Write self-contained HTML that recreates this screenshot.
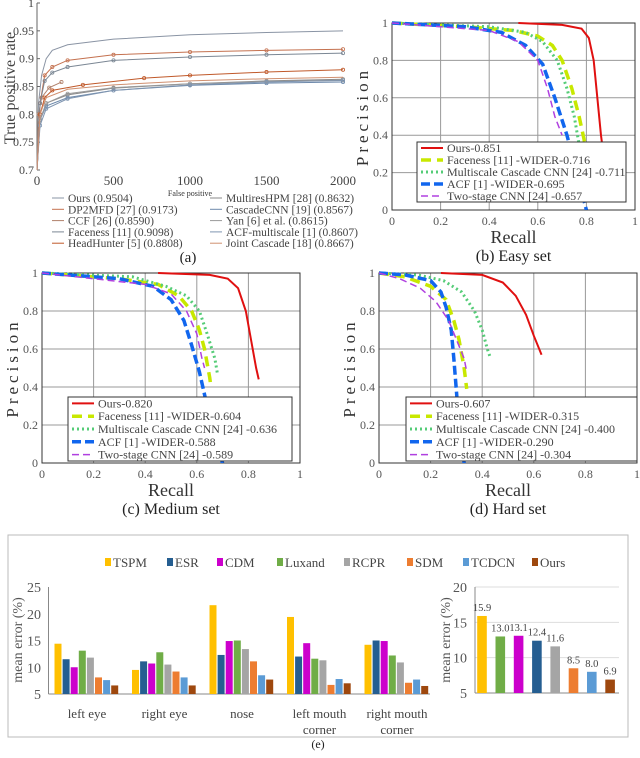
<!DOCTYPE html>
<html><head><meta charset="utf-8"><style>
html,body{margin:0;padding:0;background:#fff;}
svg{display:block;font-family:"Liberation Serif",serif;}
</style></head><body>
<svg id="fig" width="640" height="758" viewBox="0 0 640 758" xmlns="http://www.w3.org/2000/svg"></svg>
<script>
// ---------- Panel (a) data ----------
const rocNames = ["Ours (0.9504)","DP2MFD [27] (0.9173)","CCF [26] (0.8590)","Faceness [11] (0.9098)","HeadHunter [5] (0.8808)","MultiresHPM [28] (0.8632)","CascadeCNN [19] (0.8567)","Yan [6] et al. (0.8615)","ACF-multiscale [1] (0.8607)","Joint Cascade [18] (0.8667)"];
const rocFP = [[0,10,30,60,100,200,500,1000,1500,2000],[0,20,50,100,200,500,1000,1500,2000],[0,10,30,80,160],[0,20,50,100,200,500,1000,1500,2000],[0,20,50,100,300,700,1000,1500,2000],[0,20,60,200,500,1000,1500,2000],[0,20,60,200,500,1000,1500,2000],[0,20,60,200,500,1000,1500,2000],[0,20,60,200,500,1000,1500,2000],[0,20,60,200,500,1000,1500,2000]];
const rocTPR = [[0.7,0.82,0.87,0.9,0.915,0.925,0.935,0.943,0.947,0.95],[0.7,0.82,0.87,0.885,0.897,0.907,0.912,0.915,0.917],[0.7,0.8,0.83,0.848,0.858],[0.7,0.82,0.86,0.875,0.885,0.897,0.903,0.907,0.91],[0.7,0.8,0.83,0.843,0.853,0.865,0.87,0.876,0.88],[0.7,0.79,0.82,0.835,0.847,0.855,0.86,0.863],[0.7,0.79,0.815,0.83,0.843,0.852,0.856,0.858],[0.7,0.79,0.82,0.837,0.848,0.855,0.859,0.8615],[0.7,0.78,0.81,0.828,0.843,0.853,0.858,0.8607],[0.7,0.8,0.83,0.845,0.853,0.86,0.864,0.8667]];
const rocXTicks = [0,500,1000,1500,2000];
const rocYTicks = [0.7,0.75,0.8,0.85,0.9,0.95,1];
const rocYTickLabels = ["0.7","0.75","0.8","0.85","0.9","0.95","1"];

// ---------- PR panels data ----------
const prNamesB = ["Ours-0.851","Faceness [11] -WIDER-0.716","Multiscale Cascade CNN [24] -0.711","ACF [1] -WIDER-0.695","Two-stage CNN [24] -0.657"];
const prNamesC = ["Ours-0.820","Faceness [11] -WIDER-0.604","Multiscale Cascade CNN [24] -0.636","ACF [1] -WIDER-0.588","Two-stage CNN [24] -0.589"];
const prNamesD = ["Ours-0.607","Faceness [11] -WIDER-0.315","Multiscale Cascade CNN [24] -0.400","ACF [1] -WIDER-0.290","Two-stage CNN [24] -0.304"];
const prRecallB = [[0.52,0.7,0.78,0.81,0.83,0.845,0.86,0.87],[0,0.3,0.5,0.6,0.66,0.7,0.74,0.77,0.79,0.8],[0,0.4,0.55,0.62,0.68,0.72,0.75,0.77],[0,0.3,0.45,0.55,0.62,0.67,0.72,0.76,0.8],[0,0.2,0.4,0.52,0.6,0.64,0.67,0.7]];
const prPrecB = [[1,0.99,0.97,0.92,0.8,0.6,0.4,0.3],[1,0.98,0.96,0.93,0.88,0.8,0.65,0.5,0.38,0.3],[1,0.98,0.95,0.9,0.8,0.65,0.5,0.35],[1,0.98,0.95,0.88,0.78,0.6,0.4,0.2,0],[1,0.98,0.96,0.9,0.8,0.65,0.5,0.4]];
const prRecallC = [[0.45,0.65,0.72,0.76,0.79,0.81,0.83,0.84],[0,0.3,0.45,0.53,0.58,0.61,0.63,0.65,0.655],[0,0.35,0.48,0.56,0.61,0.64,0.67,0.68],[0,0.3,0.43,0.5,0.55,0.58,0.61,0.64,0.67,0.7],[0,0.2,0.4,0.5,0.56,0.6,0.62,0.63]];
const prPrecC = [[1,0.99,0.97,0.92,0.8,0.65,0.5,0.44],[1,0.97,0.94,0.88,0.8,0.7,0.6,0.45,0.4],[1,0.98,0.93,0.88,0.8,0.68,0.55,0.47],[1,0.97,0.93,0.86,0.75,0.62,0.48,0.3,0.12,0],[1,0.97,0.94,0.89,0.8,0.68,0.55,0.5]];
const prRecallD = [[0.24,0.4,0.48,0.53,0.57,0.6,0.63],[0,0.1,0.2,0.26,0.29,0.31,0.33,0.34],[0,0.15,0.25,0.32,0.37,0.4,0.42,0.43],[0,0.1,0.2,0.24,0.26,0.28,0.29,0.3,0.31,0.33],[0,0.08,0.16,0.22,0.27,0.3,0.33,0.34]];
const prPrecD = [[1,0.99,0.95,0.88,0.78,0.67,0.57],[1,0.98,0.93,0.86,0.75,0.65,0.5,0.39],[1,0.99,0.96,0.9,0.8,0.7,0.6,0.56],[1,0.99,0.96,0.9,0.82,0.7,0.55,0.38,0.2,0],[1,0.97,0.92,0.85,0.75,0.65,0.55,0.48]];
const prTicks = [0,0.2,0.4,0.6,0.8,1];
const prTickLabels = ["0","0.2","0.4","0.6","0.8","1"];

// ---------- Panel (e) data ----------
const methods = ["TSPM","ESR","CDM","Luxand","RCPR","SDM","TCDCN","Ours"];
const parts = [["left eye"],["right eye"],["nose"],["left mouth","corner"],["right mouth","corner"]];
const errTSPM  = [14.4,9.5,21.6,19.4,14.2];
const errESR   = [11.5,11.1,12.3,12.0,15.0];
const errCDM   = [10.0,10.7,14.9,14.5,14.9];
const errLuxand= [13.1,12.8,15.0,11.6,12.2];
const errRCPR  = [11.8,10.5,13.4,11.3,10.9];
const errSDM   = [8.1,9.2,11.1,6.7,7.1];
const errTCDCN = [7.6,8.1,8.5,7.8,7.7];
const errOurs  = [6.6,6.6,7.7,7.0,6.5];
const meanOrder = ["TSPM","Luxand","CDM","ESR","RCPR","SDM","TCDCN","Ours"];
const meanVals = [15.9,13.0,13.1,12.4,11.6,8.5,8.0,6.9];
const meanLabels = ["15.9","13.0","13.1","12.4","11.6","8.5","8.0","6.9"];
const errTicks = [5,10,15,20,25];
const meanTicks = [5,10,15,20];

const NS="http://www.w3.org/2000/svg";
const svg=document.getElementById('fig');
function el(tag,attrs,parent,text){const e=document.createElementNS(NS,tag);for(const k in attrs)e.setAttribute(k,attrs[k]);if(text!==undefined)e.textContent=text;(parent||svg).appendChild(e);return e;}

// ===== Panel (a) =====
(function(){
  const g=el('g',{});
  
  
  const X=v=>37+v/2000*306, Y=v=>170-(v-0.7)/0.3*167;
  el('line',{x1:37,y1:3,x2:37,y2:170,stroke:'#666','stroke-width':1},g);
  rocYTicks.forEach((t,i)=>{
    el('line',{x1:37,y1:Y(t),x2:40,y2:Y(t),stroke:'#666'},g);
    const tx=el('text',{x:34,y:Y(t)+4,'text-anchor':'end','font-size':12,fill:'#444'},g,rocYTickLabels[i]);
    
    
  });
  rocXTicks.forEach(t=>{
    const tx=el('text',{x:X(t),y:185,'text-anchor':'middle','font-size':13,fill:'#444'},g,String(t));
    
    
  });
  const xt=el('text',{x:190,y:196,'text-anchor':'middle','font-size':8,fill:'#333'},g,'False positive');
  
  
  const yt=el('text',{x:0,y:0,transform:'translate(15,88) rotate(-90)','text-anchor':'middle','font-size':16,fill:'#444'},g,'True positive rate');
  
  
  const cols=['#8a94a4','#c4714f','#b0806a','#7b8794','#c0592a','#8a8a8a','#6d89ab','#999999','#7f95b0','#d09070'];
  const mk=['none','plus','x','circle','star','tri','circle','plus','circle','none'];
  rocFP.forEach((fp,i)=>{
    const pts=fp.map((f,j)=>X(f)+','+Y(rocTPR[i][j])).join(' ');
    const pl=el('polyline',{points:pts,fill:'none',stroke:cols[i],'stroke-width':1},g);
    
    
    if(mk[i]!=='none'){fp.forEach((f,j)=>{if(j>0)el('circle',{cx:X(f),cy:Y(rocTPR[i][j]),r:1.6,fill:'none',stroke:cols[i],'stroke-width':0.8},g);});}
  });
  rocNames.forEach((n,i)=>{
    const col=i<5?0:1, row=i%5;
    const lx=col?210:52, ly=202+row*11.3;
    const le=el('g',{},g);
    
    
    el('line',{x1:lx,y1:ly-4,x2:lx+12,y2:ly-4,stroke:cols[i]},le);
    el('text',{x:lx+16,y:ly,'font-size':11.5,fill:'#444'},le,n);
  });
  const cap=el('text',{x:188,y:262,'text-anchor':'middle','font-size':15,fill:'#222'},g,'(a)');
  
  
})();

// ===== PR panels =====
const prStyles=[
  {stroke:'#e01010',w:2,dash:''},
  {stroke:'#c8e800',w:3.5,dash:'10 6'},
  {stroke:'#55cc77',w:3,dash:'2 3'},
  {stroke:'#1166ee',w:3.5,dash:'9 4'},
  {stroke:'#b040e0',w:1.5,dash:'7 4'}
];
function drawPR(name,x0,x1,yT,yB,recalls,precs,names,lb,caption){
  const g=el('g',{});
  
  
  const X=v=>x0+v*(x1-x0), Y=v=>yB-v*(yB-yT);
  prTicks.forEach((t,i)=>{
    el('line',{x1:X(t),y1:yT,x2:X(t),y2:yB,stroke:'#999','stroke-width':1},g);
    el('line',{x1:x0,y1:Y(t),x2:x1,y2:Y(t),stroke:'#999','stroke-width':1},g);
    const a=el('text',{x:X(t),y:yB+15,'text-anchor':'middle','font-size':12,fill:'#555'},g,prTickLabels[i]);
    
    
    const b=el('text',{x:x0-4,y:Y(t)+4,'text-anchor':'end','font-size':12,fill:'#555'},g,prTickLabels[i]);
    
    
  });
  el('rect',{x:x0,y:yT,width:x1-x0,height:yB-yT,fill:'none',stroke:'#333','stroke-width':1},g);
  const clip='clip'+name;
  const cp=el('clipPath',{id:clip},g);
  el('rect',{x:x0,y:yT-3,width:x1-x0,height:yB-yT+3},cp);
  recalls.forEach((r,i)=>{
    const pts=r.map((v,j)=>X(v)+','+Y(precs[i][j])).join(' ');
    const s=prStyles[i];
    const pl=el('polyline',{points:pts,fill:'none',stroke:s.stroke,'stroke-width':s.w,'stroke-dasharray':s.dash,'clip-path':'url(#'+clip+')'},g);
    
    
  });
  const lg=el('g',{},g);
  
  
  el('rect',{x:lb[0],y:lb[1],width:lb[2]-lb[0],height:lb[3]-lb[1],fill:'#fff',stroke:'#333'},lg);
  const step=(lb[3]-lb[1])/5;
  names.forEach((n,i)=>{
    const ly=lb[1]+step*(i+0.5);
    const s=prStyles[i];
    const e=el('g',{},lg);
    
    
    el('line',{x1:lb[0]+4,y1:ly,x2:lb[0]+26,y2:ly,stroke:s.stroke,'stroke-width':s.w,'stroke-dasharray':s.dash},e);
    el('text',{x:lb[0]+30,y:ly+4,'font-size':12,fill:'#444'},e,n);
  });
  const xt=el('text',{x:(x0+x1)/2,y:yB+33,'text-anchor':'middle','font-size':18,fill:'#333'},g,'Recall');
  
  
  const yt=el('text',{x:0,y:0,transform:'translate('+(x0-24)+','+((yT+yB)/2)+') rotate(-90)','text-anchor':'middle','font-size':17,'letter-spacing':4,fill:'#333'},g,'Precision');
  
  
  const c=el('text',{x:(x0+x1)/2,y:yB+51,'text-anchor':'middle','font-size':16,fill:'#222'},g,caption);
  
  
}
drawPR('pr-chart-easy',392,635,23,210,prRecallB,prPrecB,prNamesB,[417,142,626,202],'(b) Easy set');
drawPR('pr-chart-medium',42,300,273,463,prRecallC,prPrecC,prNamesC,[68,397,292,461],'(c) Medium set');
drawPR('pr-chart-hard',379,637,273,463,prRecallD,prPrecD,prNamesD,[406,397,637,461],'(d) Hard set');

// ===== Panel (e) =====
(function(){
  const colors={TSPM:'#ffc000',ESR:'#255e91',CDM:'#cc00cc',Luxand:'#70ad47',RCPR:'#a5a5a5',SDM:'#ed7d31',TCDCN:'#5b9bd5',Ours:'#9e480e'};
  const series=[errTSPM,errESR,errCDM,errLuxand,errRCPR,errSDM,errTCDCN,errOurs];
  const g=el('g',{});
  
  
  el('rect',{x:8,y:535,width:620,height:202,fill:'none',stroke:'#bbb'},g);
  const legX=[107,169,219,279,346,409,465,534];
  methods.forEach((m,i)=>{
    const e=el('g',{},g);
    
    
    el('rect',{x:legX[i]-2,y:558,width:6,height:8,fill:colors[m]},e);
    el('text',{x:legX[i]+6,y:567,'font-size':13,fill:'#444'},e,m);
  });
  const Y=v=>694-(v-5)*5.35;
  el('line',{x1:48.5,y1:Y(25),x2:48.5,y2:Y(5),stroke:'#888'},g);
  el('line',{x1:48.5,y1:Y(5),x2:430,y2:Y(5),stroke:'#888'},g);
  errTicks.forEach(t=>{
    const tx=el('text',{x:41,y:Y(t)+5,'text-anchor':'end','font-size':14,fill:'#555'},g,String(t));
    
    
  });
  const yt=el('text',{x:0,y:0,transform:'translate(22,640) rotate(-90)','text-anchor':'middle','font-size':14,fill:'#555'},g,'mean error (%)');
  
  
  const gw=77.5;
  parts.forEach((p,ci)=>{
    const cx=87+ci*gw;
    series.forEach((s,si)=>{
      const bx=cx-29+si*8.1-3.5;
      const r=el('rect',{x:bx,y:Y(s[ci]),width:7,height:Y(5)-Y(s[ci]),fill:colors[methods[si]]},g);
      
      
    });
    p.forEach((line,li)=>{
      const tx=el('text',{x:cx,y:718+li*16,'text-anchor':'middle','font-size':13,fill:'#444'},g,line);
      
      
    });
  });
  const Y2=v=>693-(v-5)*(106/15);
  meanTicks.forEach(t=>{
    if(t>5) el('line',{x1:475,y1:Y2(t),x2:619,y2:Y2(t),stroke:'#ddd'},g);
    const tx=el('text',{x:467,y:Y2(t)+5,'text-anchor':'end','font-size':14,fill:'#555'},g,String(t));
    
    
  });
  el('line',{x1:475,y1:Y2(20),x2:475,y2:Y2(5),stroke:'#888'},g);
  el('line',{x1:475,y1:Y2(5),x2:619,y2:Y2(5),stroke:'#888'},g);
  const yt2=el('text',{x:0,y:0,transform:'translate(450,640) rotate(-90)','text-anchor':'middle','font-size':14,fill:'#555'},g,'mean error (%)');
  
  
  meanVals.forEach((v,i)=>{
    const cx=482+i*18.3;
    const r=el('rect',{x:cx-4.8,y:Y2(v),width:9.6,height:Y2(5)-Y2(v),fill:colors[meanOrder[i]]},g);
    
    
    const tx=el('text',{x:cx,y:Y2(v)-5,'text-anchor':'middle','font-size':10.5,fill:'#444'},g,meanLabels[i]);
    
    
  });
  const cap=el('text',{x:318,y:748,'text-anchor':'middle','font-size':12,fill:'#222'},g,'(e)');
  
  
})();
</script>
</body></html>
